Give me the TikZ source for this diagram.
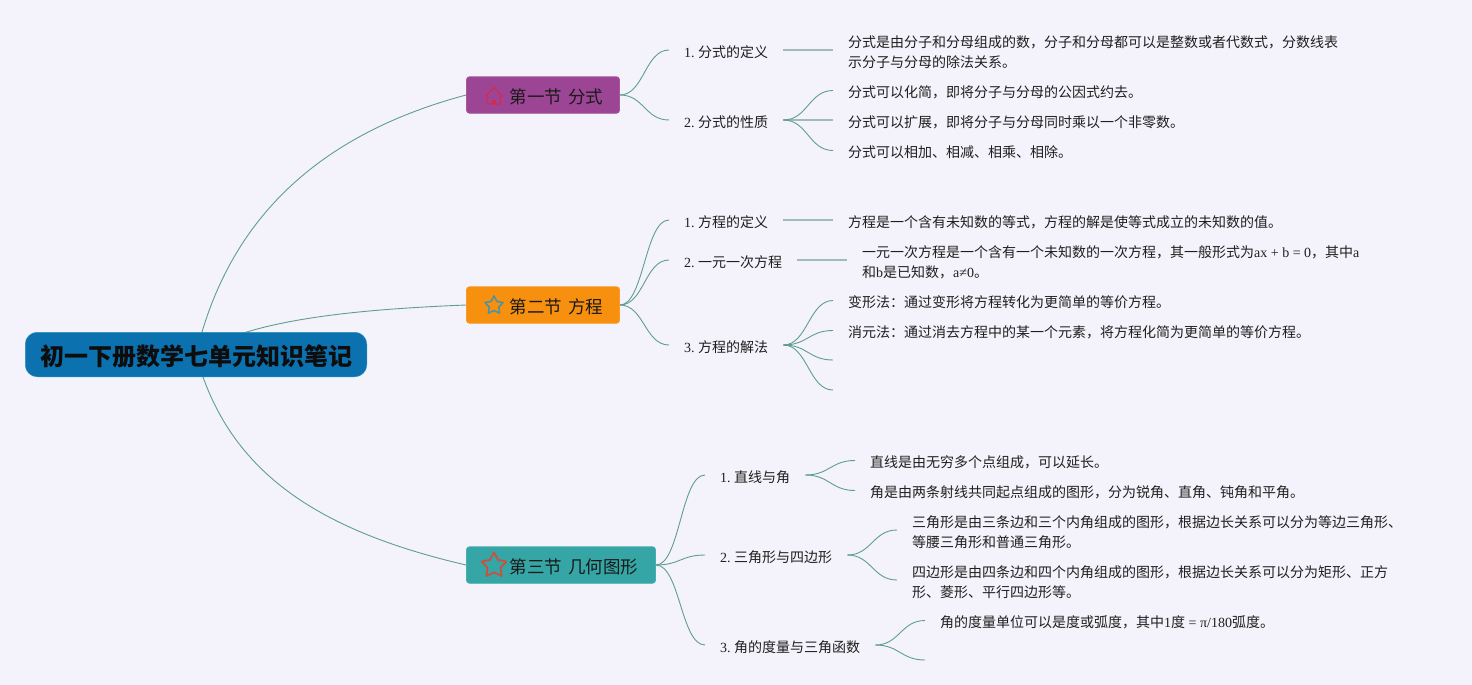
\documentclass[tikz,border=0pt]{standalone}
\usepackage{fontspec}
\setmainfont{Noto Sans CJK SC}
\newfontfamily\latf{Liberation Serif}
\newcommand{\ltn}[1]{{\latf #1}}
\newcommand{\widespace}{\spaceskip 6pt\relax}
\usetikzlibrary{shapes.geometric,backgrounds}
\definecolor{pagebg}{HTML}{F4F3FB}
\definecolor{lnk}{HTML}{5E9E90}
\definecolor{lnklight}{HTML}{9DBDB5}
\definecolor{rootcol}{HTML}{0B71AF}
\definecolor{rootedge}{HTML}{2A8FBC}
\definecolor{seca}{HTML}{9C4595}
\definecolor{secb}{HTML}{F7900F}
\definecolor{secc}{HTML}{35A5A5}
\definecolor{iconh}{HTML}{D5294F}
\definecolor{icons}{HTML}{4F93A0}
\definecolor{iconr}{HTML}{C8523F}
\tikzset{
  x=1pt,y=-1pt,
  rootbox/.style={draw=rootedge,line width=.5pt,fill=rootcol,rounded corners=12pt,minimum width=341.5pt,minimum height=44.5pt,inner sep=0pt,font=\fontsize{24}{28}\selectfont\bfseries,text=black!95,execute at begin node={\rule{0pt}{24.5pt}}},
  secbox/.style={rounded corners=3pt,minimum height=36.5pt,inner sep=0pt,line width=.8pt},
  sectext/.style={anchor=west,inner sep=0pt,font=\fontsize{17.5}{20}\selectfont,text=black!90,execute at begin node={\widespace}},
  subnode/.style={anchor=west,inner xsep=15pt,inner ysep=0pt,font=\fontsize{14}{20}\selectfont\frenchspacing,text=black!88,execute at begin node={\rule{0pt}{15.5pt}}},
  leaf/.style={anchor=west,inner xsep=15pt,inner ysep=0pt,align=left,font=\fontsize{14}{20}\selectfont\frenchspacing,text=black!88,execute at begin node={\rule{0pt}{15.5pt}}},
  curve/.style={draw=lnk,line width=.9pt},
  straight/.style={draw=lnklight,line width=1.1pt},
  iconstar/.style={star,star points=5,star point ratio=1.9,inner sep=0pt,fill=none,line join=round},
}
\begin{document}
\begin{tikzpicture}
\useasboundingbox (0,0) rectangle (1472,685);
\begin{scope}[on background layer]
\fill[pagebg] (0,0) rectangle (1472,685);
\end{scope}

% root and sections
\node[rootbox] (root) at (196,354.5) {初一下册数学七单元知识笔记};
\node[secbox,draw=seca!90!white,fill=seca,minimum width=153pt] (s1) at (543,95) {};
\node[secbox,draw=secb!90!white,fill=secb,minimum width=153pt] (s2) at (543,305) {};
\node[secbox,draw=secc!90!white,fill=secc,minimum width=189pt] (s3) at (561,565) {};
\node[sectext] (s1t) at (509.5,97) {第一节 分式};
\node[sectext] (s2t) at (509.5,307) {第二节 方程};
\node[sectext] (s3t) at (509.5,567) {第三节 几何图形};

% icons
\draw[draw=iconh,line width=1.2pt,line join=round] (485.5,96.5) -- (494,87.5) -- (502.5,96.5) (487.5,95) -- (487.5,104) -- (500.5,104) -- (500.5,95);
\fill[iconh] (492,99.5) rectangle (496,104);
\node[iconstar,draw=icons,line width=1.6pt,minimum size=19pt] (star2) at (494,305.5) {};
\node[iconstar,draw=iconr,line width=1.8pt,minimum size=26pt] (star3) at (494,565.5) {};

% first section
\node[subnode] (s11) at (669,50) {\ltn{1. }分式的定义};
\node[subnode] (s12) at (669,120) {\ltn{2. }分式的性质};
\node[leaf] (a1) at (833,52.5) {分式是由分子和分母组成的数，分子和分母都可以是整数或者代数式，分数线表\\示分子与分母的除法关系。};
\coordinate (a1p) at (833,50);
\node[leaf] (a2) at (833,90.5) {分式可以化简，即将分子与分母的公因式约去。};
\node[leaf] (a3) at (833,120.5) {分式可以扩展，即将分子与分母同时乘以一个非零数。};
\node[leaf] (a4) at (833,150.5) {分式可以相加、相减、相乘、相除。};

% second section
\node[subnode] (s21) at (669,220) {\ltn{1. }方程的定义};
\node[subnode] (s22) at (669,260) {\ltn{2. }一元一次方程};
\node[subnode] (s23) at (669,345) {\ltn{3. }方程的解法};
\node[leaf] (b1) at (833,220.5) {方程是一个含有未知数的等式，方程的解是使等式成立的未知数的值。};
\node[leaf] (b2) at (847,262.5) {一元一次方程是一个含有一个未知数的一次方程，其一般形式为\ltn{ax + b = 0}，其中\ltn{a}\\和\ltn{b}是已知数，\ltn{a≠0}。};
\coordinate (b2p) at (847,260);
\node[leaf] (b3) at (833,300.5) {变形法：通过变形将方程转化为更简单的等价方程。};
\node[leaf] (b4) at (833,330.5) {消元法：通过消去方程中的某一个元素，将方程化简为更简单的等价方程。};
\coordinate (b5) at (833,360);
\coordinate (b6) at (833,390);

% third section
\node[subnode] (s31) at (705,475) {\ltn{1. }直线与角};
\node[subnode] (s32) at (705,555) {\ltn{2. }三角形与四边形};
\node[subnode] (s33) at (705,645) {\ltn{3. }角的度量与三角函数};
\node[leaf] (c1) at (855,460.5) {直线是由无穷多个点组成，可以延长。};
\node[leaf] (c2) at (855,490.5) {角是由两条射线共同起点组成的图形，分为锐角、直角、钝角和平角。};
\node[leaf] (c3) at (897,532.5) {三角形是由三条边和三个内角组成的图形，根据边长关系可以分为等边三角形、\\等腰三角形和普通三角形。};
\coordinate (c3p) at (897,530);
\node[leaf] (c4) at (897,582.5) {四边形是由四条边和四个内角组成的图形，根据边长关系可以分为矩形、正方\\形、菱形、平行四边形等。};
\coordinate (c4p) at (897,580);
\node[leaf] (c5) at (925,620.5) {角的度量单位可以是度或弧度，其中\ltn{1}度\ltn{ = π/180}弧度。};
\coordinate (c6) at (925,660);

\begin{scope}[on background layer]
% root connectors
\draw[curve] (root.center) .. controls (225,232) and (305,138) .. (s1.west);
\draw[curve] (root.center) .. controls (245,322) and (340,310) .. (s2.west);
\draw[curve] (root.center) .. controls (227,470) and (315,530) .. (s3.west);
% section -> sub
\foreach \a/\b in {s1/s11,s1/s12,s2/s21,s2/s22,s2/s23,s3/s31,s3/s32,s3/s33}
  \draw[curve] (\a.east) .. controls +(24,0) and +(-24,0) .. (\b.west);
% sub -> leaf
\foreach \a/\b in {s12/a3,s21/b1}
  \draw[straight] (\a.east) -- (\a.east -| \b.west);
\draw[straight] (s11.east) -- (a1p);
\draw[straight] (s22.east) -- (b2p);
\foreach \a/\b in {s12/a2,s12/a4,s23/b3,s23/b4,s31/c1,s31/c2,s33/c5}
  \draw[curve] (\a.east) .. controls +(24,0) and +(-24,0) .. (\b.west);
\foreach \a/\b in {s23/b5,s23/b6,s33/c6,s32/c3p,s32/c4p}
  \draw[curve] (\a.east) .. controls +(24,0) and +(-24,0) .. (\b);
\end{scope}
\end{tikzpicture}
\end{document}
